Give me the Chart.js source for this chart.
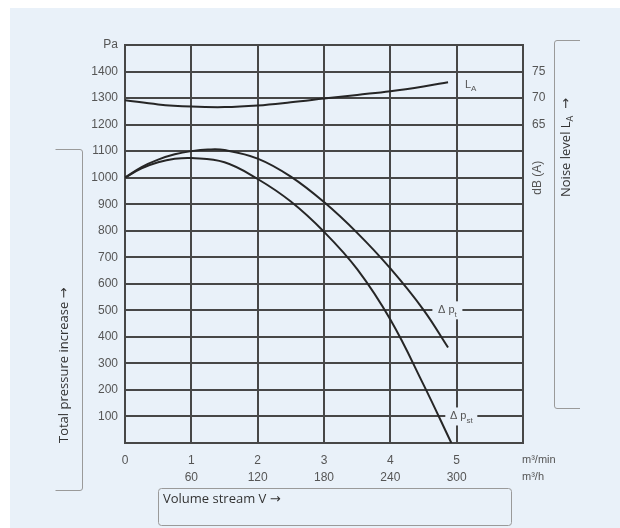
<!DOCTYPE html>
<html>
<head>
<meta charset="utf-8">
<script src="https://cdn.jsdelivr.net/npm/chart.js@4/dist/chart.umd.min.js"></script>
<style>
  html, body { margin: 0; padding: 0; background: #ffffff; }
  #wrap { width: 620px; height: 528px; }
</style>
</head>
<body>
<div id="wrap"><canvas id="c" width="620" height="528"></canvas></div>
<script>
// ---- data ----
const xTickTop = ['0', '1', '2', '3', '4', '5', ''];
const xTickBottom = ['', '60', '120', '180', '240', '300', ''];
const xUnitTop = 'm³/min';
const xUnitBottom = 'm³/h';
const yLeftTopLabel = 'Pa';
const yRightShown = [65, 70, 75];

// total pressure increase Δp_t (Pa)
const ptX = [0, 0.25, 0.5, 0.75, 1, 1.25, 1.5, 2, 2.5, 3, 3.5, 4, 4.5, 4.87];
const ptY = [1000, 1040, 1068, 1088, 1100, 1106, 1104, 1072, 1004, 908, 792, 658, 502, 360];
// static pressure increase Δp_st (Pa)
const pstX = [0, 0.25, 0.5, 0.75, 1, 1.5, 2, 2.5, 3, 3.5, 4, 4.5, 4.92];
const pstY = [1000, 1035, 1058, 1071, 1074, 1058, 995, 910, 796, 655, 465, 220, 0];
// noise level L_A (dB(A))
const laX = [0, 0.5, 1, 1.5, 2, 2.5, 3, 3.5, 4, 4.5, 4.87];
const laY = [69.6, 68.8, 68.4, 68.3, 68.6, 69.2, 69.9, 70.6, 71.3, 72.2, 73.0];

const toPts = (xs, ys) => xs.map((x, i) => ({ x: x, y: ys[i] }));

const GRID = '#474747';
const CURVE = '#262626';
const TICK = '#555555';
const PANEL = '#e9f1f9';
const FRAME = '#9a9a9a';
const TFONT = '"Liberation Sans", Arial, sans-serif';

const decor = {
  id: 'decor',
  beforeDraw(chart) {
    const ctx = chart.ctx;
    ctx.save();
    ctx.fillStyle = '#ffffff';
    ctx.fillRect(0, 0, chart.width, chart.height);
    ctx.fillStyle = PANEL;
    ctx.fillRect(10, 8, chart.width - 10, chart.height - 8);
    ctx.restore();
  },
  afterDatasetsDraw(chart) {
    const ctx = chart.ctx;
    const xs = chart.scales.x, ys = chart.scales.y, y2 = chart.scales.y2;
    ctx.save();
    function label(main, sub, xv, yv, w) {
      const px = xs.getPixelForValue(xv), py = ys.getPixelForValue(yv);
      ctx.fillStyle = PANEL;
      ctx.fillRect(px - w / 2, py - 9, w, 18);
      ctx.fillStyle = TICK;
      ctx.textBaseline = 'middle';
      ctx.textAlign = 'left';
      ctx.font = '11px ' + TFONT;
      const mw = ctx.measureText(main).width;
      ctx.font = '8px ' + TFONT;
      const sw = ctx.measureText(sub).width;
      const start = px - (mw + sw) / 2;
      ctx.font = '11px ' + TFONT;
      ctx.fillText(main, start, py);
      ctx.font = '8px ' + TFONT;
      ctx.fillText(sub, start + mw, py + 4);
    }
    label('Δ p', 't', 4.86, 500, 30);
    label('Δ p', 'st', 5.07, 100, 32);
    {
      const px = xs.getPixelForValue(5.2), py = y2.getPixelForValue(72.5);
      ctx.fillStyle = TICK;
      ctx.textBaseline = 'middle';
      ctx.textAlign = 'left';
      ctx.font = '11px ' + TFONT;
      ctx.fillText('L', px - 5, py);
      const lw = ctx.measureText('L').width;
      ctx.font = '8px ' + TFONT;
      ctx.fillText('A', px - 5 + lw, py + 4);
    }
    ctx.restore();
  },
  afterDraw(chart) {
    const ctx = chart.ctx;
    const xs = chart.scales.x, y2 = chart.scales.y2;
    ctx.save();
    ctx.fillStyle = TICK;
    ctx.font = '11px ' + TFONT;
    ctx.textAlign = 'left';
    ctx.textBaseline = 'middle';
    const ux = xs.getPixelForValue(6) - 1;
    ctx.fillText(xUnitTop, ux, 460);
    ctx.fillText(xUnitBottom, ux, 477);
    ctx.save();
    ctx.translate(538, y2.getPixelForValue(55));
    ctx.rotate(-Math.PI / 2);
    ctx.textAlign = 'center';
    ctx.font = '12px ' + TFONT;
    ctx.fillText('dB (A)', 0, 0);
    ctx.restore();

    ctx.strokeStyle = FRAME;
    ctx.lineWidth = 1;
    ctx.beginPath();
    ctx.moveTo(55.5, 149.5); ctx.lineTo(80, 149.5);
    ctx.quadraticCurveTo(82.5, 149.5, 82.5, 152);
    ctx.lineTo(82.5, 488);
    ctx.quadraticCurveTo(82.5, 490.5, 80, 490.5);
    ctx.lineTo(55.5, 490.5);
    ctx.stroke();

    ctx.beginPath();
    ctx.moveTo(580, 40.5); ctx.lineTo(557, 40.5);
    ctx.quadraticCurveTo(554.5, 40.5, 554.5, 43);
    ctx.lineTo(554.5, 406);
    ctx.quadraticCurveTo(554.5, 408.5, 557, 408.5);
    ctx.lineTo(580, 408.5);
    ctx.stroke();

    ctx.beginPath();
    if (ctx.roundRect) ctx.roundRect(158.5, 488.5, 353, 37, 3);
    else ctx.rect(158.5, 488.5, 353, 37);
    ctx.stroke();

    ctx.fillStyle = '#333333';
    ctx.font = '13px "Open Sans", "DejaVu Sans", sans-serif';
    ctx.textAlign = 'left';
    ctx.textBaseline = 'middle';
    ctx.fillText('Volume stream V →', 163, 499);

    ctx.save();
    ctx.translate(64, 443);
    ctx.rotate(-Math.PI / 2);
    ctx.fillText('Total pressure increase →', 0, 0);
    ctx.restore();

    ctx.save();
    ctx.translate(566, 197);
    ctx.rotate(-Math.PI / 2);
    ctx.font = '13px "Open Sans", "DejaVu Sans", sans-serif';
    ctx.fillText('Noise level L', 0, 0);
    let w = ctx.measureText('Noise level L').width;
    ctx.font = '9px "Open Sans", "DejaVu Sans", sans-serif';
    ctx.fillText('A', w, 4);
    w += ctx.measureText('A').width;
    ctx.font = '13px "Open Sans", "DejaVu Sans", sans-serif';
    ctx.fillText('  →', w, 0);
    ctx.restore();

    ctx.restore();
  }
};

const tickFont = { family: TFONT, size: 12, lineHeight: 1.4 };

new Chart(document.getElementById('c'), {
  type: 'line',
  data: {
    datasets: [
      { label: 'Δp_t', data: toPts(ptX, ptY), yAxisID: 'y', borderColor: CURVE, borderWidth: 2, pointRadius: 0, tension: 0.4, fill: false },
      { label: 'Δp_st', data: toPts(pstX, pstY), yAxisID: 'y', borderColor: CURVE, borderWidth: 2, pointRadius: 0, tension: 0.4, fill: false },
      { label: 'L_A', data: toPts(laX, laY), yAxisID: 'y2', borderColor: CURVE, borderWidth: 2, pointRadius: 0, tension: 0.4, fill: false }
    ]
  },
  options: {
    responsive: false,
    animation: false,
    devicePixelRatio: 1,
    layout: { padding: { top: 45, left: 0, right: 0, bottom: 0 } },
    plugins: { legend: { display: false }, tooltip: { enabled: false } },
    scales: {
      x: {
        type: 'linear', min: 0, max: 6,
        ticks: {
          stepSize: 1, color: TICK, font: tickFont, padding: 9, maxRotation: 0, autoSkip: false,
          callback: (v) => {
            const i = Math.round(v);
            return xTickBottom[i] ? [xTickTop[i], xTickBottom[i]] : xTickTop[i];
          }
        },
        grid: { color: GRID, lineWidth: 2, drawTicks: false },
        border: { color: GRID, width: 2 },
        afterFit: (s) => { s.height = 85; }
      },
      y: {
        type: 'linear', position: 'left', min: 0, max: 1500,
        ticks: {
          stepSize: 100, color: TICK, font: tickFont, padding: 7,
          callback: (v) => v === 1500 ? yLeftTopLabel : (v === 0 ? '' : String(v))
        },
        grid: { color: GRID, lineWidth: 2, drawTicks: false },
        border: { color: GRID, width: 2 },
        afterFit: (s) => { s.width = 125; }
      },
      y2: {
        type: 'linear', position: 'right', min: 5, max: 80,
        ticks: {
          stepSize: 5, color: TICK, font: tickFont, padding: 9,
          callback: (v) => yRightShown.includes(v) ? String(v) : ''
        },
        grid: { display: false, drawTicks: false },
        border: { color: GRID, width: 2 },
        afterFit: (s) => { s.width = 97; }
      }
    }
  },
  plugins: [decor]
});
</script>
</body>
</html>
